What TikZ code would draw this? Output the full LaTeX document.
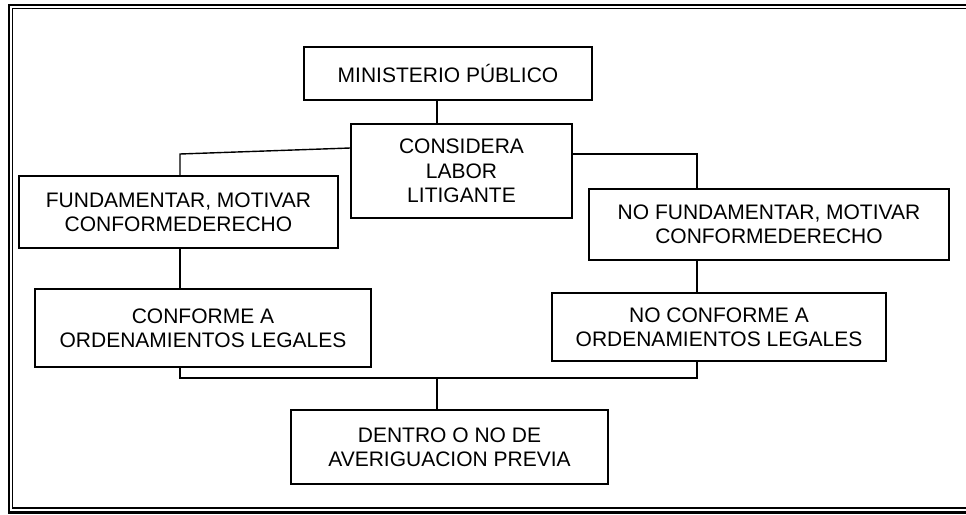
\documentclass[tikz,border=0pt]{standalone}
\usepackage{fontspec}
\setmainfont{Liberation Sans}
\usetikzlibrary{positioning,calc}
\tikzset{
  box/.style       ={draw=black,fill=white,line width=1.4pt,align=center,
                     font=\fontsize{21pt}{24.3pt}\selectfont,inner sep=0pt},
  link/.style      ={draw=black,line width=1.4pt},
  outerframe/.style={draw=black,line width=2.4pt},
  innerframe/.style={draw=black,line width=1.2pt},
}

\begin{document}
\begin{tikzpicture}[x=1pt,y=-1pt]
\useasboundingbox (0,0) rectangle (966,514);
% double frame, open to the right
\draw[outerframe] (980,5) -- (9,5) -- (9,512.5) -- (980,512.5);
\draw[innerframe] (980,8.7) -- (12.8,8.7) -- (12.8,508) -- (980,508);
% boxes
\node[box,minimum width=288pt,minimum height=53pt] (mp) at (448,73.5)
 {MINISTERIO PÚBLICO};
\node[box,minimum width=221pt,minimum height=94pt] (cl) at (461.5,171)
 {CONSIDERA\\LABOR\\LITIGANTE};
\node[box,minimum width=319pt,minimum height=72pt] (fm) at (178.5,212)
 {FUNDAMENTAR, MOTIVAR\\CONFORMEDERECHO};
\node[box,minimum width=360pt,minimum height=71pt] (nfm) at (769,224.5)
 {NO FUNDAMENTAR, MOTIVAR\\CONFORMEDERECHO};
\node[box,minimum width=336pt,minimum height=78pt] (ca) at (203,328)
 {CONFORME A\\ORDENAMIENTOS LEGALES};
\node[box,minimum width=334pt,minimum height=68pt] (nca) at (719,327)
 {NO CONFORME A\\ORDENAMIENTOS LEGALES};
\node[box,minimum width=317pt,minimum height=74pt] (dn) at (449.5,447)
 {DENTRO O NO DE\\AVERIGUACION PREVIA};
% junctions
\coordinate (jl) at (180,154);
\coordinate (jr) at (697,154);
\coordinate (jb) at (437,378);
% connectors
\draw[link] ([xshift=-11pt]mp.south) -- ([xshift=-11pt]mp.south |- cl.north);
\draw[link] ([yshift=23pt]cl.west) -- (jl) -- (jl |- fm.north);
\draw[link] ([yshift=17pt]cl.east) -- (jr) -- (jr |- nfm.north);
\draw[link] (jl |- fm.south) -- (jl |- ca.north);
\draw[link] (jr |- nfm.south) -- (jr |- nca.north);
\draw[link] (jl |- ca.south) -- (jl |- jb) -- (jr |- jb) -- (jr |- nca.south);
\draw[link] (jb) -- (jb |- dn.north);
\end{tikzpicture}
\end{document}
